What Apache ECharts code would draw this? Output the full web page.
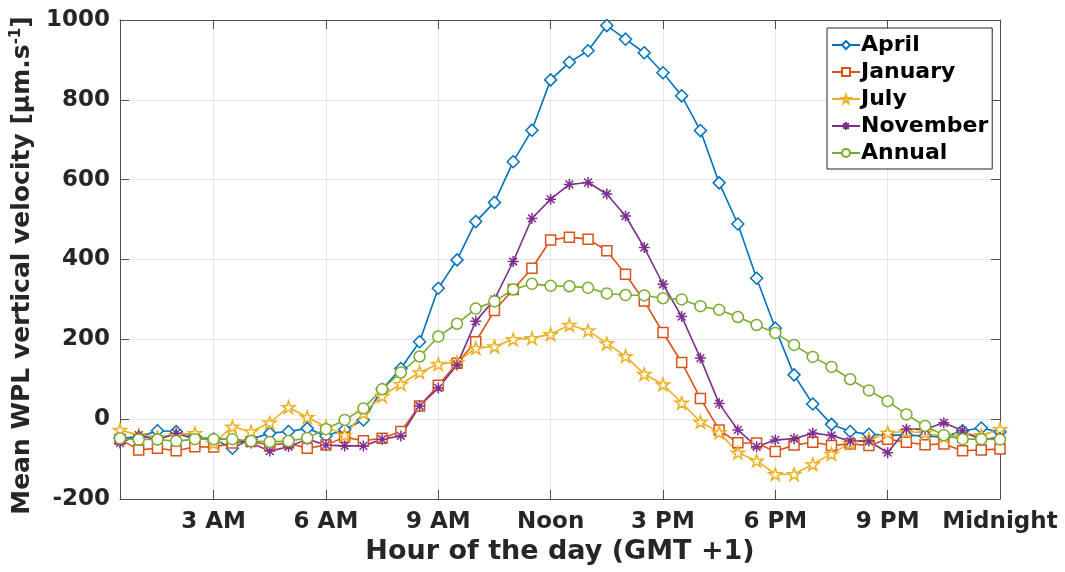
<!DOCTYPE html>
<html>
<head>
<meta charset="utf-8">
<script src="https://cdn.jsdelivr.net/npm/echarts@6/dist/echarts.min.js"></script>
<style>
  html, body { margin: 0; padding: 0; background: #fff; }
  #wpl-chart { width: 1065px; height: 572px; }
</style>
</head>
<body>
<div id="wpl-chart"></div>
<script>
// half-hour steps, hour of the day (GMT +1)
const hours = [0.5, 1, 1.5, 2, 2.5, 3, 3.5, 4, 4.5, 5, 5.5, 6, 6.5, 7, 7.5, 8, 8.5, 9, 9.5, 10,
  10.5, 11, 11.5, 12, 12.5, 13, 13.5, 14, 14.5, 15, 15.5, 16, 16.5, 17, 17.5, 18, 18.5, 19, 19.5, 20,
  20.5, 21, 21.5, 22, 22.5, 23, 23.5, 24]
const tickHours = [3, 6, 9, 12, 15, 18, 21, 24]
const tickLabels = ['3 AM', '6 AM', '9 AM', 'Noon', '3 PM', '6 PM', '9 PM', 'Midnight']

const april = [-47, -45, -29, -31, -44, -50, -73, -50, -35, -31, -23, -42, -26, -2, 75, 127, 194, 328, 399, 495,
  543, 645, 724, 850, 894, 923, 986, 952, 918, 868, 810, 723, 592, 489, 353, 228, 111, 38, -13, -31,
  -38, -40, -40, -42, -45, -29, -22, -32]
const january = [-50, -77, -73, -79, -69, -70, -60, -56, -65, -60, -73, -65, -45, -54, -48, -31, 33, 85, 140, 194,
  272, 325, 378, 449, 456, 451, 422, 363, 296, 217, 142, 52, -27, -59, -60, -81, -65, -58, -66, -62,
  -66, -50, -58, -64, -62, -79, -77, -75]
const july = [-27, -40, -45, -40, -35, -60, -19, -31, -9, 30, 5, -19, -40, 15, 58, 88, 117, 138, 143, 178,
  182, 200, 203, 213, 236, 222, 190, 158, 113, 87, 41, -7, -33, -84, -104, -138, -138, -113, -87, -60,
  -50, -34, -31, -34, -44, -40, -40, -25]
const november = [-60, -40, -52, -35, -50, -50, -50, -60, -80, -69, -50, -65, -67, -67, -50, -42, 33, 78, 136, 245,
  300, 395, 503, 551, 588, 593, 564, 509, 430, 338, 257, 153, 39, -27, -69, -52, -49, -35, -41, -55,
  -55, -84, -25, -25, -9, -29, -52, -45]
const annual = [-48, -51, -51, -55, -50, -50, -50, -55, -57, -55, -47, -25, -2, 27, 75, 117, 157, 207, 239, 277,
  295, 325, 339, 334, 333, 329, 315, 311, 310, 303, 300, 283, 274, 256, 236, 216, 186, 156, 131, 100,
  72, 45, 12, -17, -40, -50, -50, -51]

const starPath = 'path://M0,-1 L0.225,-0.309 L0.951,-0.309 L0.363,0.118 L0.588,0.809 L0,0.382 L-0.588,0.809 L-0.363,0.118 L-0.951,-0.309 L-0.225,-0.309 Z'
const asteriskPath = 'path://M0,-1 L0,1 M-1,0 L1,0 M-0.707,-0.707 L0.707,0.707 M-0.707,0.707 L0.707,-0.707'

const font = 'DejaVu Sans'
const isTick = (idx) => tickHours.indexOf(hours[idx]) !== -1

function makeSeries (name, data, color, symbol, size) {
  return {
    name: name,
    type: 'line',
    data: data,
    symbol: symbol,
    symbolSize: size,
    symbolKeepAspect: true,
    showAllSymbol: true,
    itemStyle: { color: '#fff', borderColor: color, borderWidth: 1.5 },
    lineStyle: { color: color, width: 1.6 },
    emphasis: { disabled: true }
  }
}

const myChart = echarts.init(document.getElementById('wpl-chart'))
const option = {
  animation: false,
  grid: { left: 120, right: 65, top: 20, bottom: 73, outerBoundsMode: 'none', containLabel: false },
  legend: {
    orient: 'vertical',
    left: 827,
    top: 28,
    padding: [6, 4, 5, 4],
    itemGap: 5,
    itemWidth: 28,
    itemHeight: 10,
    backgroundColor: '#fff',
    borderColor: '#262626',
    borderWidth: 1,
    borderRadius: 0,
    textStyle: { fontFamily: font, fontWeight: 'bold', fontSize: 22, color: '#000', padding: [0, 0, 0, -4] },
    data: ['April', 'January', 'July', 'November', 'Annual']
  },
  xAxis: [
    {
      type: 'category',
      data: hours,
      boundaryGap: false,
      name: 'Hour of the day (GMT +1)',
      nameLocation: 'middle',
      nameGap: 36,
      nameTextStyle: { fontFamily: font, fontWeight: 'bold', fontSize: 27, color: '#262626' },
      axisLine: { onZero: false, lineStyle: { color: '#4d4d4d', width: 1 } },
      axisTick: { inside: true, length: 9, interval: isTick, lineStyle: { color: '#4d4d4d' } },
      axisLabel: {
        interval: isTick,
        margin: 12,
        fontFamily: font,
        fontWeight: 'bold',
        fontSize: 23,
        color: '#262626',
        formatter: (v) => tickLabels[tickHours.indexOf(Number(v))]
      },
      splitLine: { show: true, interval: isTick, lineStyle: { color: '#e6e6e6', width: 1 } }
    },
    {
      type: 'category',
      data: hours,
      boundaryGap: false,
      position: 'top',
      axisLine: { onZero: false, lineStyle: { color: '#4d4d4d', width: 1 } },
      axisTick: { inside: true, length: 9, interval: isTick, lineStyle: { color: '#4d4d4d' } },
      axisLabel: { show: false },
      splitLine: { show: false }
    }
  ],
  yAxis: [
    {
      type: 'value',
      min: -200,
      max: 1000,
      interval: 200,
      name: 'Mean WPL vertical velocity [µm.s{sup|-1}]',
      nameLocation: 'middle',
      nameGap: 78,
      nameTextStyle: {
        fontFamily: font,
        fontWeight: 'bold',
        fontSize: 25,
        color: '#262626',
        padding: [0, 12, 0, 0],
        rich: {
          sup: { fontFamily: font, fontWeight: 'bold', fontSize: 15, color: '#262626', verticalAlign: 'top', padding: [0, 0, 12, 0] }
        }
      },
      axisLine: { show: true, onZero: false, lineStyle: { color: '#4d4d4d', width: 1 } },
      axisTick: { show: true, inside: true, length: 9, lineStyle: { color: '#4d4d4d' } },
      axisLabel: { margin: 10, fontFamily: font, fontWeight: 'bold', fontSize: 23, color: '#262626', formatter: (v) => String(v) },
      splitLine: { show: true, lineStyle: { color: '#e6e6e6', width: 1 } }
    },
    {
      type: 'value',
      min: -200,
      max: 1000,
      interval: 200,
      position: 'right',
      axisLine: { show: true, onZero: false, lineStyle: { color: '#4d4d4d', width: 1 } },
      axisTick: { show: true, inside: true, length: 9, lineStyle: { color: '#4d4d4d' } },
      axisLabel: { show: false },
      splitLine: { show: false }
    }
  ],
  series: [
    makeSeries('April', april, '#0072BD', 'diamond', 12),
    makeSeries('January', january, '#D95319', 'rect', 10),
    makeSeries('July', july, '#EDB120', starPath, 13),
    makeSeries('November', november, '#7E2F8E', asteriskPath, 11),
    makeSeries('Annual', annual, '#77AC30', 'circle', 11)
  ]
}
option && myChart.setOption(option)
</script>
</body>
</html>
